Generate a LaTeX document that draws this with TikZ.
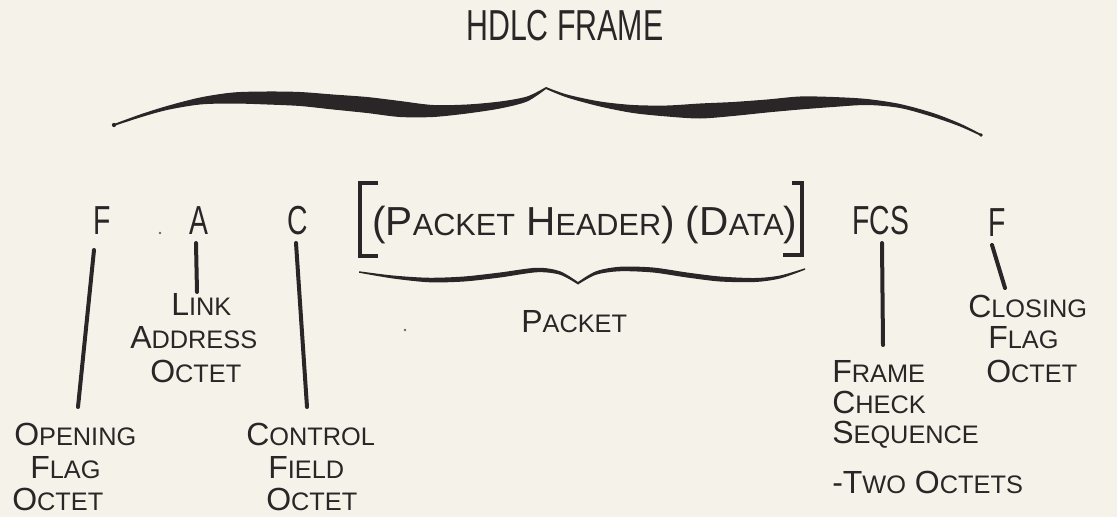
\documentclass[tikz,border=0pt]{standalone}
\usepackage{fontspec}
\setmainfont{Liberation Sans}
\newfontfamily\titlef[FakeStretch=0.70]{Liberation Sans}
\newfontfamily\rowf[FakeStretch=0.70]{Liberation Sans}
\definecolor{ink}{HTML}{2A2526}
\definecolor{paper}{HTML}{F5F3E9}
\newcommand\SCx[2]{{\fontsize{24pt}{24pt}\selectfont #1}{\fontsize{19pt}{19pt}\selectfont #2}}
\newcommand\SCt[2]{{\fontsize{30.4pt}{30pt}\selectfont #1}{\fontsize{23pt}{23pt}\selectfont #2}}
\begin{document}
\begin{tikzpicture}[x=0.75pt,y=-0.75pt,
  lbl/.style={anchor=base west, inner sep=0pt, text=ink},
  conn/.style={draw=ink, line width=3pt, line cap=round},
  brk/.style={draw=ink, line width=3pt, line cap=butt, line join=miter}]
\useasboundingbox (0,0) rectangle (1117,517);
\fill[paper] (0,0) rectangle (1117,517);

% title
\node[lbl] (title) at (466,41) {\titlef\fontsize{32.5pt}{32pt}\selectfont HDLC FRAME};

% big brace
\fill[ink] plot[smooth] coordinates {(114,124) (140,114.5) (167,106) (200,97.5) (233,92.5) (267,91.5) (300,92) (333,94.5) (367,97) (400,101) (433,105) (467,104.5) (500,101.5) (527,96.5) (546,87)}
  -- plot[smooth] coordinates {(546,89) (527,101.5) (500,108.5) (467,113.5) (433,117) (400,117) (367,113) (333,109.5) (300,106) (267,104.5) (233,103.5) (200,104.5) (167,110) (140,117.5) (114,126)} -- cycle;
\fill[ink] plot[smooth] coordinates {(546,87) (567,94.5) (600,101.5) (633,105) (667,105.5) (700,103.5) (733,102) (767,99.5) (800,96.5) (833,97) (867,99) (900,104) (933,113) (960,123.5) (981,134)}
  -- plot[smooth] coordinates {(981,136) (960,126.5) (933,117) (900,108) (867,105) (833,107) (800,109.5) (767,112.5) (733,116) (700,118.5) (667,116.5) (633,113) (600,106.5) (567,97.5) (546,89)} -- cycle;
\fill[ink] (114,125) circle (1.6pt);
\fill[ink] (981,135) circle (1.4pt);

% top row
\node[lbl] (f1) at (93,234) {\rowf\fontsize{30.4pt}{30pt}\selectfont F};
\node[lbl] (a) at (189,234) {\rowf\fontsize{30.4pt}{30pt}\selectfont A};
\node[lbl] (c) at (287,234) {\rowf\fontsize{30.4pt}{30pt}\selectfont C};
\node[lbl] (pkt) at (372,235) {\SCt{(P}{ACKET}\SCt{\ H}{EADER}\SCt{)\ (D}{ATA}\SCt{)}{}};
\node[lbl] (fcs) at (852,234) {\rowf\fontsize{30.4pt}{30pt}\selectfont FCS};
\node[lbl] (f2) at (988,236) {\rowf\fontsize{30.4pt}{30pt}\selectfont F};

% brackets around packet
\draw[brk] (378,183) -- (360,183) -- (360,256) -- (378,256);
\draw[brk] (792,183) -- (802,183) -- (802,255) -- (783,255);

% packet brace
\fill[ink] plot[smooth] coordinates {(359,271.25) (393,275.5) (429,277.75) (464,276.5) (500,272.5) (537,267.75) (560,271.25) (578,282)}
  -- plot[smooth] coordinates {(578,284.5) (560,274.75) (537,272.25) (500,277.5) (464,281.5) (429,282.25) (393,278.5) (359,272.75)} -- cycle;
\fill[ink] plot[smooth] coordinates {(578,282) (596,271.25) (620,266.75) (653,267.5) (687,272.5) (720,276.5) (755,278) (780,275.5) (805,268.25)}
  -- plot[smooth] coordinates {(805,269.75) (780,278.5) (755,282) (720,281.5) (687,277.5) (653,272.5) (620,271.25) (596,274.75) (578,284.5)} -- cycle;
\node[lbl] (packet) at (521,332) {\SCx{P}{ACKET}};

% labels
\node[lbl] (op1) at (14,445) {\SCx{O}{PENING}};
\node[lbl] (op2) at (30,478) {\SCx{F}{LAG}};
\node[lbl] (op3) at (12,510) {\SCx{O}{CTET}};
\node[lbl] (la1) at (171,315) {\SCx{L}{INK}};
\node[lbl] (la2) at (130,348) {\SCx{A}{DDRESS}};
\node[lbl] (la3) at (150,382) {\SCx{O}{CTET}};
\node[lbl] (cf1) at (246,445) {\SCx{C}{ONTROL}};
\node[lbl] (cf2) at (268,478) {\SCx{F}{IELD}};
\node[lbl] (cf3) at (266,510) {\SCx{O}{CTET}};
\node[lbl] (fc1) at (832,382) {\SCx{F}{RAME}};
\node[lbl] (fc2) at (832,413) {\SCx{C}{HECK}};
\node[lbl] (fc3) at (832,443) {\SCx{S}{EQUENCE}};
\node[lbl] (fc4) at (832,493) {\SCx{-T}{WO}\SCx{\ O}{CTETS}};
\node[lbl] (cl1) at (968,317) {\SCx{C}{LOSING}};
\node[lbl] (cl2) at (988,348) {\SCx{F}{LAG}};
\node[lbl] (cl3) at (986,382) {\SCx{O}{CTET}};

% connector end points
\coordinate (f1b) at (94,250);   \coordinate (op1t) at (78,407);
\coordinate (ab) at (196,243);   \coordinate (la1t) at (197,292);
\coordinate (cb) at (296,243);   \coordinate (cf1t) at (307,407);
\coordinate (fcsb) at (882,243); \coordinate (fc1t) at (883,345);
\coordinate (f2b) at (992,245);  \coordinate (cl1t) at (1005,288);
\draw[conn] (f1b) -- (op1t);
\draw[conn] (ab) -- (la1t);
\draw[conn] (cb) -- (cf1t);
\draw[conn] (fcsb) -- (fc1t);
\draw[conn] (f2b) -- (cl1t);

% specks
\fill[ink!70] (160,233) circle (1.1pt);
\fill[ink!70] (405,330) circle (1.1pt);
\end{tikzpicture}
\end{document}
